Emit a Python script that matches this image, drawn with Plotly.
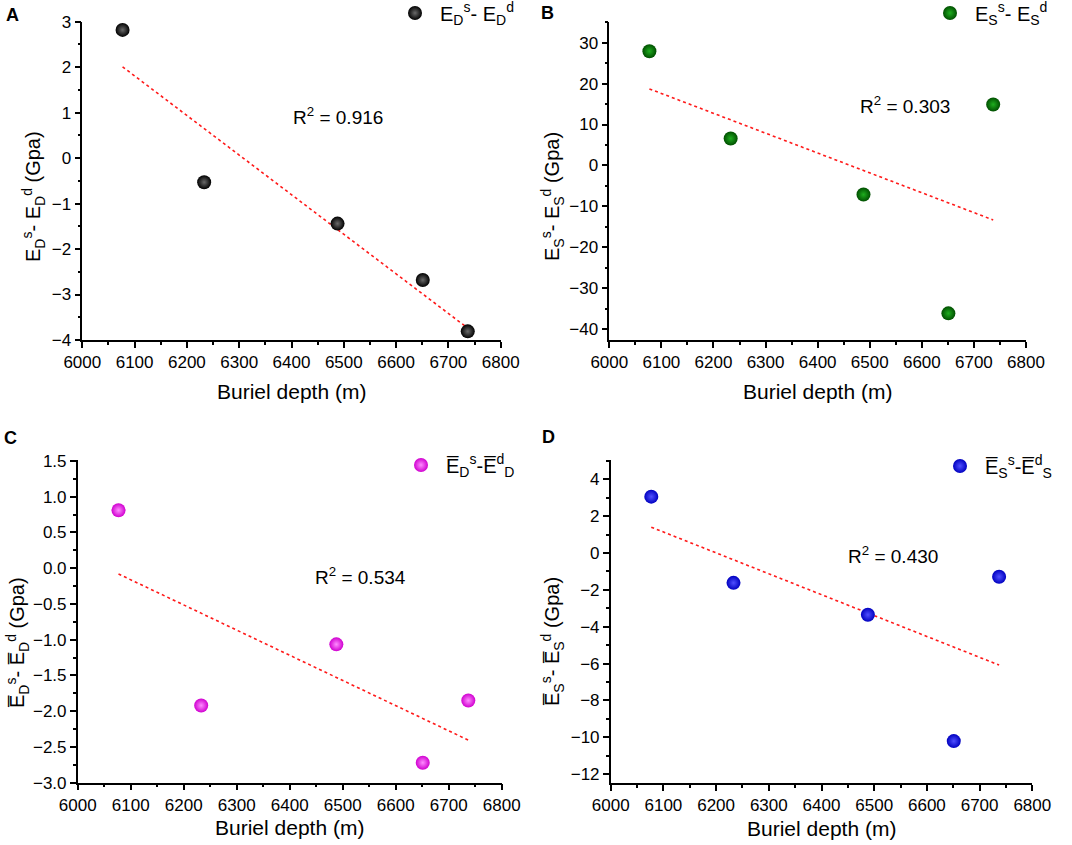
"""
Différences de modules statiques / dynamiques en fonction de la profondeur
4 panneaux (A-D) avec droite de régression
"""

import numpy as np
import plotly.graph_objects as go

# ============================================================================
# DONNÉES
# ============================================================================
profondeur = [6077, 6233, 6488, 6651, 6737]

diff_ED = [2.82, -0.53, -1.44, -2.68, -3.81]
diff_ES = [27.9, 6.6, -7.1, -36.1, 14.9]
diff_ED_moy = [0.81, -1.92, -1.065, -2.72, -1.85]
diff_ES_moy = [3.06, -1.62, -3.35, -10.21, -1.29]

r2_labels = ["R<sup>2</sup> = 0.916", "R<sup>2</sup> = 0.303",
             "R<sup>2</sup> = 0.534", "R<sup>2</sup> = 0.430"]

OB = "E\u0305"
legend_labels = [
    "E<sub>D</sub><sup>s</sup>- E<sub>D</sub><sup>d</sup>",
    "E<sub>S</sub><sup>s</sup>- E<sub>S</sub><sup>d</sup>",
    f"{OB}<sub>D</sub><sup>s</sup>-{OB}<sup>d</sup><sub>D</sub>",
    f"{OB}<sub>S</sub><sup>s</sup>-{OB}<sup>d</sup><sub>S</sub>",
]
ytitles = [
    "E<sub>D</sub><sup>s</sup>- E<sub>D</sub><sup>d</sup> (Gpa)",
    "E<sub>S</sub><sup>s</sup>- E<sub>S</sub><sup>d</sup> (Gpa)",
    f"{OB}<sub>D</sub><sup>s</sup>- {OB}<sub>D</sub><sup>d</sup> (Gpa)",
    f"{OB}<sub>S</sub><sup>s</sup>- {OB}<sub>S</sub><sup>d</sup> (Gpa)",
]
xtitle = "Buriel depth (m)"
panel_letters = ["A", "B", "C", "D"]
xticks = list(range(6000, 6801, 100))

# ============================================================================
# CONFIGURATION
# ============================================================================
W, H = 1072, 845
FONT = "Arial, 'Liberation Sans', sans-serif"

def px_x(p):
    return p / W

def px_y(p):
    return 1 - p / H

# domaines des panneaux en pixels (gauche, droite, haut, bas)
panels = [
    dict(data=diff_ED, box=(82.3, 500.7, 21.7, 340.0), yrange=[-4, 3], dtick=1, minor=0.5,
         fmt="", edge="#000000", center="#6a6a6a", r2pos=(6489, 0.93),
         letter=(12, 15), leg=(412, 13), ytit=(33, 197), xtit=51),
    dict(data=diff_ES, box=(609.3, 1026.0, 21.7, 340.0), yrange=[-42.6, 35.1], dtick=10, minor=5,
         fmt="", edge="#004f00", center="#1fae1f", r2pos=(6568, 14.8),
         letter=(547, 13), leg=(947, 13), ytit=(552, 197), xtit=51),
    dict(data=diff_ED_moy, box=(77.7, 501.7, 459.5, 782.7), yrange=[-3, 1.52], dtick=0.5, minor=0.25,
         fmt=".1f", edge="#d000d0", center="#ff8cff", r2pos=(6534, -0.11),
         letter=(10, 438), leg=(418, 465), ytit=(17, 643), xtit=45),
    dict(data=diff_ES_moy, box=(610.7, 1032.3, 460.0, 783.3), yrange=[-12.5, 5.05], dtick=2, minor=1,
         fmt="", edge="#0000c0", center="#5050ff", r2pos=(6535, -0.13),
         letter=(548, 437), leg=(957, 466), ytit=(552, 642), xtit=45),
]

fig = go.Figure()
annotations = []

for i, p in enumerate(panels):
    n = "" if i == 0 else str(i + 1)
    xa, ya = "x" + n, "y" + n
    leg = "legend" + n
    left, right, top, bottom = p["box"]

    # droite de régression (moindres carrés)
    pente, origine = np.polyfit(profondeur, p["data"], 1)
    x_fit = np.array([min(profondeur), max(profondeur)])
    fig.add_trace(go.Scatter(
        x=x_fit, y=pente * x_fit + origine, mode="lines",
        line=dict(color="#ff1a1a", width=1.6, dash="3px,3px"),
        showlegend=False, xaxis=xa, yaxis=ya, hoverinfo="skip"
    ))

    fig.add_trace(go.Scatter(
        x=profondeur, y=p["data"], mode="markers",
        name=legend_labels[i],
        marker=dict(size=14, color=p["edge"], line=dict(width=0),
                    gradient=dict(type="radial", color=p["center"])),
        xaxis=xa, yaxis=ya, legend=leg
    ))

    axis_common = dict(
        showline=True, linecolor="black", linewidth=1.5, mirror=False,
        ticks="outside", ticklen=6, tickwidth=1.5, tickcolor="black",
        showgrid=False, zeroline=False, automargin=False,
        tickfont=dict(family=FONT, size=17, color="black"),
    )
    fig.update_layout(**{
        "xaxis" + n: dict(
            domain=[px_x(left), px_x(right)], range=[6000, 6800],
            tickvals=xticks, anchor=ya,
            minor=dict(dtick=50, tick0=6000, ticklen=3, tickwidth=1.5,
                       tickcolor="black", ticks="outside", showgrid=False),
            **axis_common),
        "yaxis" + n: dict(
            domain=[px_y(bottom), px_y(top)], range=p["yrange"],
            dtick=p["dtick"], tick0=0, tickformat=p["fmt"], anchor=xa,
            minor=dict(dtick=p["minor"], tick0=0, ticklen=3, tickwidth=1.5,
                       tickcolor="black", ticks="outside", showgrid=False),
            **axis_common),
        leg: dict(
            x=px_x(p["leg"][0] - 22), xanchor="left",
            y=px_y(p["leg"][1]), yanchor="middle",
            itemwidth=40,
            bgcolor="rgba(0,0,0,0)", borderwidth=0,
            font=dict(family=FONT, size=20, color="black"),
        ),
    })

    # texte R²
    annotations.append(dict(
        x=p["r2pos"][0], y=p["r2pos"][1], xref=xa, yref=ya,
        text=r2_labels[i], showarrow=False, xanchor="center", yanchor="middle",
        font=dict(family=FONT, size=19, color="black")))
    # lettre du panneau
    annotations.append(dict(
        x=px_x(p["letter"][0]), y=px_y(p["letter"][1]), xref="paper", yref="paper",
        text=f"<b>{panel_letters[i]}</b>", showarrow=False,
        xanchor="center", yanchor="middle",
        font=dict(family=FONT, size=18, color="black")))
    # titre axe x
    annotations.append(dict(
        x=px_x((left + right) / 2), y=px_y(bottom + p["xtit"]), xref="paper", yref="paper",
        text=xtitle, showarrow=False, xanchor="center", yanchor="middle",
        font=dict(family=FONT, size=21, color="black")))
    # titre axe y
    annotations.append(dict(
        x=px_x(p["ytit"][0]), y=px_y(p["ytit"][1]), xref="paper", yref="paper",
        text=ytitles[i], showarrow=False, textangle=-90,
        xanchor="center", yanchor="middle",
        font=dict(family=FONT, size=20, color="black")))

fig.update_layout(
    width=W, height=H,
    margin=dict(l=0, r=0, t=0, b=0, autoexpand=False),
    paper_bgcolor="white", plot_bgcolor="white",
    annotations=annotations,
    font=dict(family=FONT, color="black"),
)

# supprimer la marge par défaut du <body> pour caler la figure sur la fenêtre
fig.write_html("out.html", config={"displayModeBar": False},
               post_script="document.body.style.margin='0';")
print("✓ Figure sauvegardée: out.html")
